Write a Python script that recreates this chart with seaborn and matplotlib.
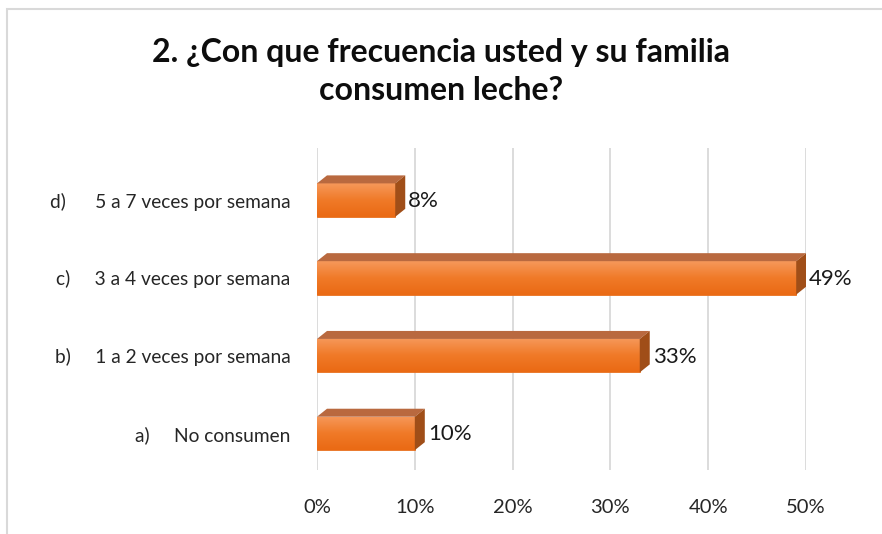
import numpy as np
import pandas as pd
import matplotlib
matplotlib.use("Agg")
import matplotlib.pyplot as plt
import seaborn as sns
from matplotlib.patches import Polygon, Rectangle
from matplotlib.colors import LinearSegmentedColormap

# datos
categorias = ["d)      5 a 7 veces por semana",
              "c)     3 a 4 veces por semana",
              "b)     1 a 2 veces por semana",
              "a)     No consumen"]
porcentajes = [0.08, 0.49, 0.33, 0.10]
etiquetas = ["8%", "49%", "33%", "10%"]
ticks = [0, 0.1, 0.2, 0.3, 0.4, 0.5]
tick_labels = ["0%", "10%", "20%", "30%", "40%", "50%"]

df = pd.DataFrame({"respuesta": categorias, "porcentaje": porcentajes})

sns.set_style("white")
plt.rcParams["font.family"] = ["Lato", "DejaVu Sans"]

fig = plt.figure(figsize=(8.82, 5.34), dpi=100)
ax = fig.add_axes([317 / 882, 64 / 534, 489 / 882, 322 / 534])

sns.barplot(data=df, x="porcentaje", y="respuesta", color="#F07A28",
            saturation=1, width=0.43, ax=ax, zorder=3)
ax.set_xlim(0, 0.5)
ax.set_ylim(3.47, -0.67)

ax.set_xticks(ticks)
ax.set_xticklabels(tick_labels, fontsize=14.5, color="#262626")
ax.tick_params(axis="x", length=0, pad=21)
ax.tick_params(axis="y", length=0, pad=19, labelsize=13.8, labelcolor="#262626")
ax.set_xlabel("")
ax.set_ylabel("")
ax.xaxis.grid(True, color="#d9d9d9", lw=1.3, zorder=0)
for s in ax.spines.values():
    s.set_visible(False)

# efecto 3D: gradiente, cara superior y cara lateral
grad = LinearSegmentedColormap.from_list("g", ["#F6985A", "#F07A28", "#EA6A14"])
inv = ax.transData.inverted()
dx, dy = 10, 8
for p, lab in zip(ax.patches, etiquetas):
    x0, y0 = p.get_x(), p.get_y()
    x1, y1 = x0 + p.get_width(), y0 + p.get_height()
    p.set_edgecolor("#E8701F")
    p.set_linewidth(0.6)
    img = ax.imshow(np.linspace(0, 1, 50).reshape(-1, 1), cmap=grad, aspect="auto",
                    extent=[x0, x1, y1, y0], zorder=3.5, interpolation="bilinear")
    img.set_clip_path(p)
    (ax_, ay_top), (bx_, by_bot) = ax.transData.transform([(x0, y0), (x1, y1)])
    top = inv.transform([(ax_, ay_top), (bx_, ay_top), (bx_ + dx, ay_top + dy), (ax_ + dx, ay_top + dy)])
    side = inv.transform([(bx_, ay_top), (bx_ + dx, ay_top + dy), (bx_ + dx, by_bot + dy), (bx_, by_bot)])
    ax.add_patch(Polygon(top, closed=True, facecolor="#B9693F", edgecolor="none", zorder=4))
    ax.add_patch(Polygon(side, closed=True, facecolor="#A04E18", edgecolor="none", zorder=4))
    tx, ty = inv.transform((bx_ + dx + 3, (ay_top + by_bot) / 2 - 1))
    ax.text(tx, ty, lab, fontsize=16, va="center", ha="left", color="#1a1a1a", zorder=5)

fig.text(0.5, 0.866, "2. ¿Con que frecuencia usted y su familia\nconsumen leche?",
         ha="center", va="center", fontsize=23, fontweight="bold",
         linespacing=1.4, color="#0d0d0d")

fig.patches.append(Rectangle((7 / 882, -0.05), 1.2, 1 - 9 / 534 + 0.05,
                             transform=fig.transFigure, fill=False,
                             edgecolor="#d9d9d9", lw=1.5))

fig.savefig("out.png", dpi=100)
